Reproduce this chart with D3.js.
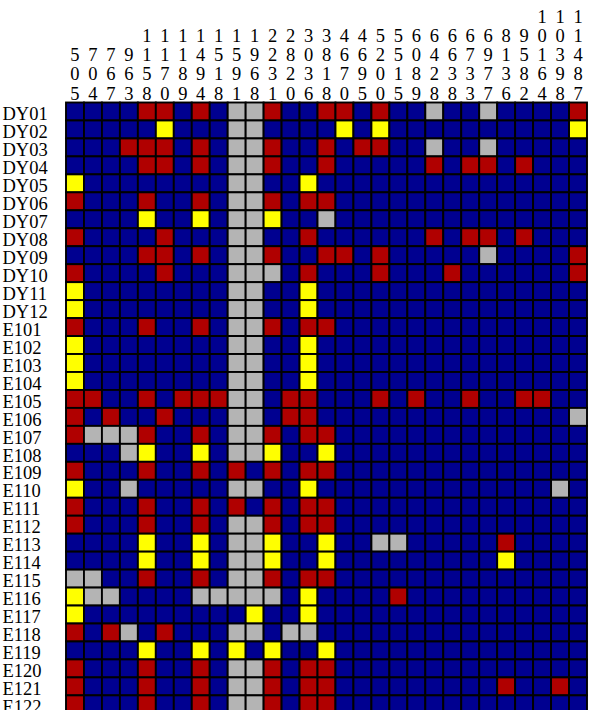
<!DOCTYPE html>
<html>
<head>
<meta charset="utf-8">
<script src="https://cdn.jsdelivr.net/npm/d3@7"></script>
<style>
  html, body { margin: 0; padding: 0; background: #fff; overflow: hidden; }
  svg { display: block; }
  text { font-family: "Liberation Serif", "Times New Roman", serif; fill: #000; }
</style>
</head>
<body>
<svg id="chart" width="590" height="710"></svg>
<script>
// Column categories (positions)
const columns = ["505", "704", "767", "963", "1158", "1170", "1189", "1494", "1518", "1591",
  "1968", "2231", "2820", "3036", "3818", "4670", "4695", "5200", "5515", "6089",
  "6428", "6638", "6733", "6977", "8136", "9582", "10164", "10398", "11487"];

// Row categories (samples)
const rows = ["DY01", "DY02", "DY03", "DY04", "DY05", "DY06", "DY07", "DY08", "DY09", "DY10",
  "DY11", "DY12", "E101", "E102", "E103", "E104", "E105", "E106", "E107", "E108",
  "E109", "E110", "E111", "E112", "E113", "E114", "E115", "E116", "E117", "E118",
  "E119", "E120", "E121", "E122"];

// State codes per row, one letter per column:
// B = reference, R = variant, Y = heterozygous, G = missing
const states = [
  "BBBBRRBRBGGRBBRRBRBBGBBGBBBBR", // DY01
  "BBBBBYBBBGGBBBBYBYBBBBBBBBBBY", // DY02
  "BBBRRRBRBGGRBBRBRRBBGBBGBBBBB", // DY03
  "BBBBRRBRBGGRBBRBBBBBRBRRBRBBB", // DY04
  "YBBBBBBBBGGBBYBBBBBBBBBBBBBBB", // DY05
  "RBBBRBBRBGGRBRRBBBBBBBBBBBBBB", // DY06
  "BBBBYBBYBGGYBBGBBBBBBBBBBBBBB", // DY07
  "RBBBBRBBBGGBBRBBBBBBRBRRBRBBB", // DY08
  "BBBBRRBRBGGRBBRRBRBBBBBGBBBBR", // DY09
  "RBBBBRBBBGGGBRBBBRBBBRBBBBBBR", // DY10
  "YBBBBBBBBGGBBYBBBBBBBBBBBBBBB", // DY11
  "YBBBBBBBBGGBBYBBBBBBBBBBBBBBB", // DY12
  "RBBBRBBRBGGRBRRBBBBBBBBBBBBBB", // E101
  "YBBBBBBBBGGBBYBBBBBBBBBBBBBBB", // E102
  "YBBBBBBBBGGBBYBBBBBBBBBBBBBBB", // E103
  "YBBBBBBBBGGBBYBBBBBBBBBBBBBBB", // E104
  "RRBBRBRRRGGBRRBBBRBRBBRBBRRBB", // E105
  "RBRBBRBBBGGBRRBBBBBBBBBBBBBBG", // E106
  "RGGGRBBRBGGRBRRBBBBBBBBBBBBBB", // E107
  "BBBGYBBYBGGYBBYBBBBBBBBBBBBBB", // E108
  "RBBBRBBRBRBRBRRBBBBBBBBBBBBBB", // E109
  "YBBGBBBBBGGBBYBBBBBBBBBBBBBGB", // E110
  "RBBBRBBRBRBRBRRBBBBBBBBBBBBBB", // E111
  "RBBBRBBRBGGRBRRBBBBBBBBBBBBBB", // E112
  "BBBBYBBYBGGYBBYBBGGBBBBBRBBBB", // E113
  "BBBBYBBYBGGYBBYBBBBBBBBBYBBBB", // E114
  "GGBBRBBRBGGRBRRBBBBBBBBBBBBBB", // E115
  "YGGBBBBGGGGGBYBBBBRBBBBBBBBBB", // E116
  "YBBBBBBBBBYBBYBBBBBBBBBBBBBBB", // E117
  "RBRGBRBBBGGBGGBBBBBBBBBBBBBBB", // E118
  "BBBBYBBYBYBYBBYBBBBBBBBBBBBBB", // E119
  "RBBBRBBRBGGRBRRBBBBBBBBBBBBBB", // E120
  "RBBBRBBRBGGRBRRBBBBBBBBBRBBRB", // E121
  "RBBBRBBRBGGRBRRBBBBBBBBBBBBBB"  // E122
];

const stateCodes = ["B", "R", "Y", "G"];
const stateColors = ["#000090", "#b00000", "#ffff00", "#b4b4b4"];

// Layout
const gridLeft = 66, gridRight = 587, gridTop = 102.5;
const cell = (gridRight - gridLeft) / columns.length;
const fontSize = 18.5;
const lineStep = 19.2;

const svg = d3.select("#chart");

const x = d3.scaleBand().domain(columns).range([gridLeft, gridRight]).padding(0);
const y = d3.scaleBand().domain(rows)
  .range([gridTop, gridTop + cell * rows.length]).padding(0);
const color = d3.scaleOrdinal().domain(stateCodes).range(stateColors);

// Flatten the state table into cells
const cells = [];
rows.forEach((r, i) => {
  columns.forEach((c, j) => {
    cells.push({ row: r, col: c, state: states[i][j] });
  });
});

// Heatmap cells
svg.append("g")
  .selectAll("rect")
  .data(cells)
  .join("rect")
  .attr("x", d => x(d.col))
  .attr("y", d => y(d.row))
  .attr("width", x.bandwidth())
  .attr("height", y.bandwidth())
  .attr("fill", d => color(d.state))
  .attr("stroke", "#000")
  .attr("stroke-width", 1.9);

// Row labels, left aligned
svg.append("g")
  .selectAll("text")
  .data(rows)
  .join("text")
  .attr("x", 2.5)
  .attr("y", d => y(d) + y.bandwidth() - 0.3)
  .attr("font-size", fontSize)
  .text(d => d);

// Column labels: digits stacked vertically, bottom aligned above the grid
const colLabels = svg.append("g")
  .selectAll("text")
  .data(columns)
  .join("text")
  .attr("font-size", fontSize)
  .attr("text-anchor", "middle");

colLabels.each(function (d) {
  const digits = d.split("");
  const n = digits.length;
  const cx = x(d) + x.bandwidth() / 2;
  d3.select(this)
    .selectAll("tspan")
    .data(digits)
    .join("tspan")
    .attr("x", cx)
    .attr("y", (_, k) => 99.5 - (n - 1 - k) * lineStep)
    .text(ch => ch);
});
</script>
</body>
</html>
